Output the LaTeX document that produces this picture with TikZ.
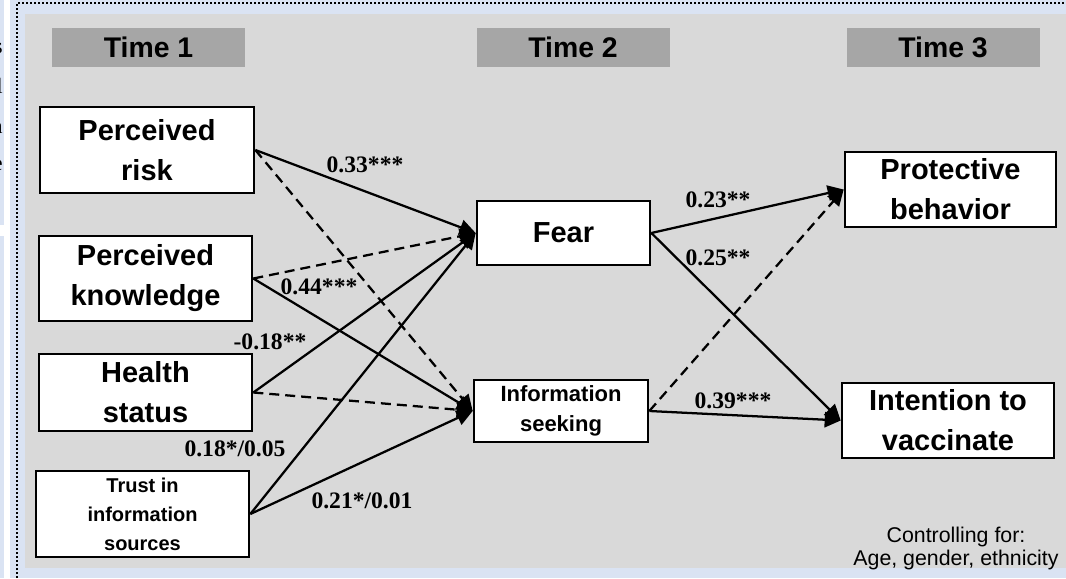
\documentclass[tikz,border=0pt]{standalone}
\usepackage{fontspec}
\setmainfont{Liberation Serif}
\setsansfont{Liberation Sans}
\usetikzlibrary{arrows.meta}
\definecolor{pageblue}{HTML}{DAE3F3}
\definecolor{panelgray}{HTML}{D9D9D9}
\definecolor{headgray}{HTML}{A6A6A6}
\tikzset{
  varbox/.style={draw=black, line width=2pt, fill=white, align=center, inner sep=0pt,
    font=\sffamily\bfseries\fontsize{21.75}{30}\selectfont},
  headbox/.style={fill=headgray, minimum width=144.75pt, minimum height=29.25pt, inner sep=0pt,
    font=\sffamily\bfseries\fontsize{21.3}{25}\selectfont},
  coef/.style={font=\rmfamily\bfseries\fontsize{17.7}{20}\selectfont, inner sep=0pt},
  sig/.style={line width=1.7pt, -{Triangle[length=12pt,width=11.5pt]}},
  nonsig/.style={sig, dash pattern=on 7.5pt off 4.5pt},
  frag/.style={font=\rmfamily\fontsize{16.5}{20}\selectfont, inner sep=0pt, anchor=base east},
}
\begin{document}
\begin{tikzpicture}[x=0.75pt,y=-0.75pt]
\useasboundingbox (0,0) rectangle (1066,578);
% page background
\fill[white] (0,0) rectangle (1066,578);
\fill[pageblue] (0,0) rectangle (4,225);
\fill[pageblue] (0,236) rectangle (4,578);
\fill[pageblue] (10,0) rectangle (1066,578);
\begin{scope}
  \clip (0,0) rectangle (4,578);
  \node[frag] (f1) at (3,53) {s};
  \node[frag] (f2) at (3,93) {l};
  \node[frag] (f3) at (3,133) {n};
  \node[frag] (f4) at (3,170) {e};
\end{scope}
\draw[line width=1.5pt, dash pattern=on 1.5pt off 1.5pt] (17,578) -- (17,3) -- (1066,3);
\fill[panelgray] (25,14) rectangle (1066,568);

% headers
\node[headbox] (t1) at (148.5,47.5) {Time 1};
\node[headbox] (t2) at (573,47.5) {Time 2};
\node[headbox] (t3) at (943,47.5) {Time 3};

% variables
\node[varbox, minimum width=160.5pt, minimum height=64.5pt] (risk) at (147,150) {Perceived\\risk};
\node[varbox, minimum width=159.75pt, minimum height=63.75pt] (know) at (145.5,278.5) {Perceived\\knowledge};
\node[varbox, minimum width=159.75pt, minimum height=57.75pt] (health) at (145.5,392.5) {Health\\status};
\node[varbox, minimum width=159.75pt, minimum height=64.5pt,
  font=\sffamily\bfseries\fontsize{15}{21.75}\selectfont] (trust) at (142.5,514) {Trust in\\information\\sources};
\node[varbox, minimum width=129.75pt, minimum height=48pt] (fear) at (563.5,233) {Fear};
\node[varbox, minimum width=130.5pt, minimum height=46.5pt,
  font=\sffamily\bfseries\fontsize{16.5}{22.5}\selectfont] (info) at (561,411) {Information\\seeking};
\node[varbox, minimum width=158.25pt, minimum height=56.25pt] (prot) at (950.5,189.5) {Protective\\behavior};
\node[varbox, minimum width=159pt, minimum height=56.25pt] (vacc) at (948,420.5) {Intention to\\vaccinate};

% paths
\draw[sig] (risk.east) -- (fear.west);
\draw[nonsig] (risk.east) -- (info.west);
\draw[nonsig] (know.east) -- (fear.west);
\draw[sig] (know.east) -- (info.west);
\draw[sig] (health.east) -- (fear.west);
\draw[nonsig] (health.east) -- (info.west);
\draw[sig] (trust.east) -- (fear.west);
\draw[sig] (trust.east) -- (info.west);
\draw[sig] (fear.east) -- (prot.west);
\draw[sig] (fear.east) -- (vacc.west);
\draw[nonsig] (info.east) -- (prot.west);
\draw[sig] (info.east) -- (vacc.west);

% coefficients
\node[coef] (c1) at (365,165) {0.33***};
\node[coef] (c2) at (319,287) {0.44***};
\node[coef] (c3) at (270,342) {-0.18**};
\node[coef] (c4) at (235,449) {0.18*/0.05};
\node[coef] (c5) at (362,501) {0.21*/0.01};
\node[coef] (c6) at (718,200) {0.23**};
\node[coef] (c7) at (718,258) {0.25**};
\node[coef] (c8) at (733,401) {0.39***};

% controls
\node[align=center, inner sep=0pt, font=\sffamily\fontsize{16}{17}\selectfont] (ctrl) at (956,548.5)
  {Controlling for:\\Age, gender, ethnicity};
\end{tikzpicture}
\end{document}
